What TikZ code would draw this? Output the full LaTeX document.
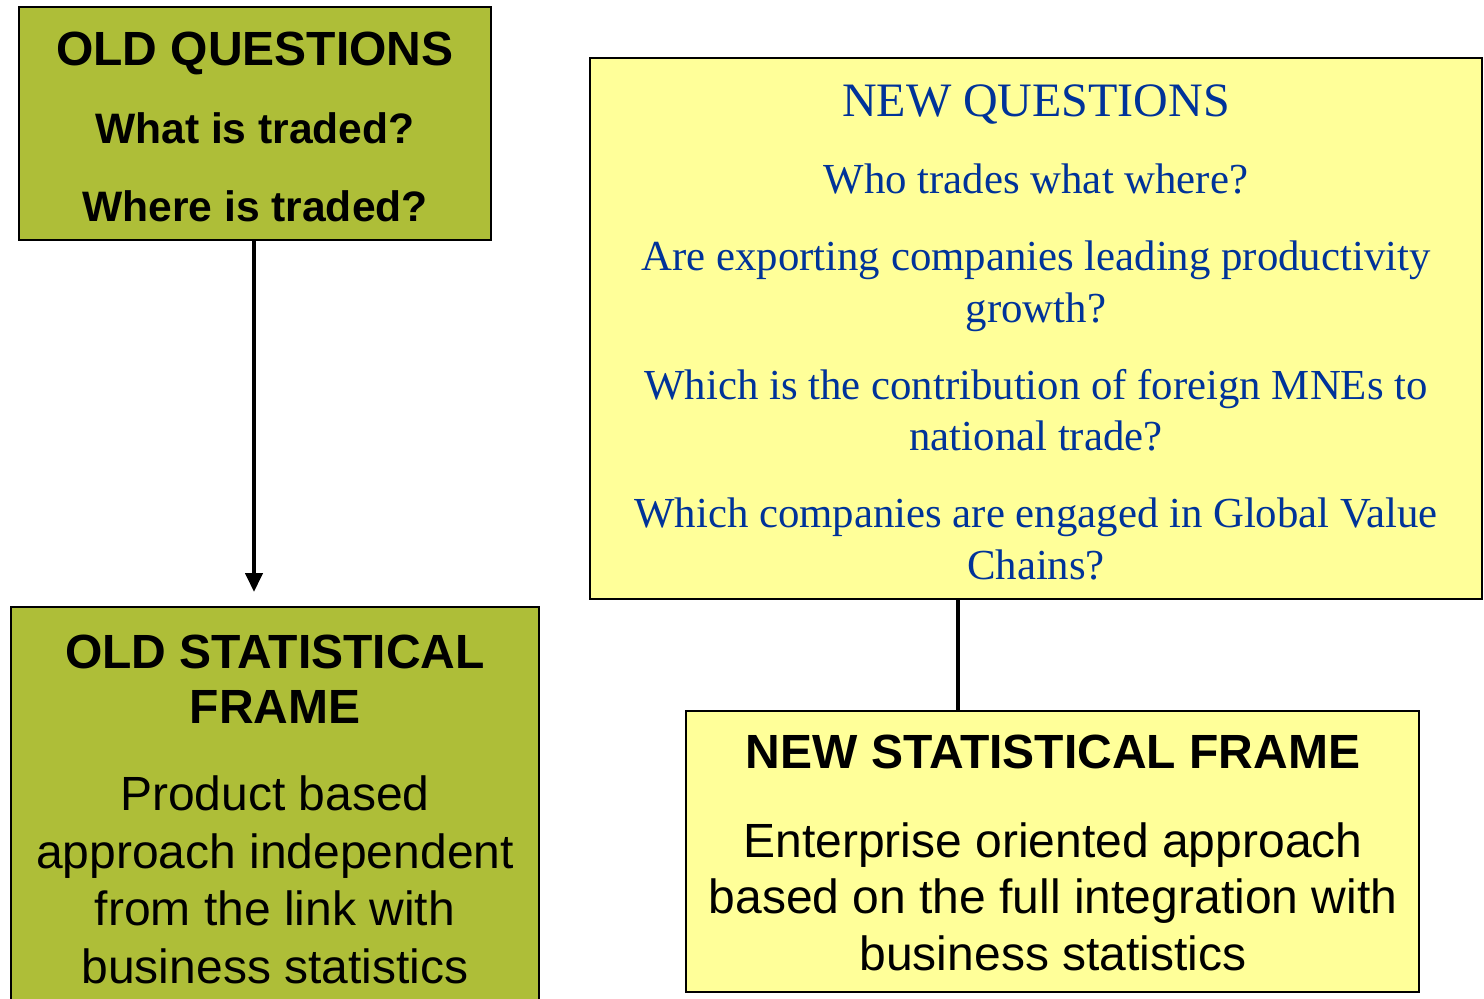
\documentclass[tikz,border=0pt]{standalone}
\usepackage{fontspec}
\setmainfont{Liberation Serif}
\setsansfont{Liberation Sans}
\usetikzlibrary{arrows.meta}
\definecolor{olivebox}{RGB}{174,190,56}
\definecolor{lyellow}{RGB}{255,255,153}
\definecolor{qblue}{RGB}{0,51,153}
\tikzset{
  box/.style={draw=black,line width=1pt,inner sep=0pt,outer sep=0pt,anchor=north west},
  txt/.style={inner sep=0pt,anchor=base},
  bighead/.style={txt,font=\sffamily\bfseries\fontsize{24}{28}\selectfont},
  oldq/.style={txt,font=\sffamily\bfseries\fontsize{21.3}{25}\selectfont},
  body/.style={txt,font=\sffamily\fontsize{24}{28}\selectfont},
  newhead/.style={txt,text=qblue,font=\rmfamily\fontsize{24}{28}\selectfont},
  newq/.style={txt,text=qblue,font=\rmfamily\fontsize{21.4}{25}\selectfont}
}
\begin{document}
\begin{tikzpicture}[x=0.5pt,y=-0.5pt]
\useasboundingbox (0,0) rectangle (1484,998);
% boxes
\node[box,fill=olivebox,minimum width=236pt,minimum height=116.5pt] (oq) at (19,7) {};
\node[box,fill=lyellow,minimum width=446pt,minimum height=270.5pt] (nq) at (590,58) {};
\node[box,fill=olivebox,minimum width=264pt,minimum height=199pt] (os) at (11,607) {};
\node[box,fill=lyellow,minimum width=366.5pt,minimum height=140.5pt] (ns) at (686,711) {};
% old questions
\node[bighead] (oq1) at (255,65) {OLD QUESTIONS};
\node[oldq] (oq2) at (255,143) {What is traded?};
\node[oldq] (oq3) at (255,221) {Where is traded?};
% new questions
\node[newhead] (nq1) at (1036,116) {NEW QUESTIONS};
\node[newq] (nq2) at (1036,193) {Who trades what where?};
\node[newq] (nq3) at (1036,270) {Are exporting companies leading productivity};
\node[newq] (nq4) at (1036,322) {growth?};
\node[newq] (nq5) at (1036,399) {Which is the contribution of foreign MNEs to};
\node[newq] (nq6) at (1036,450) {national trade?};
\node[newq] (nq7) at (1036,527) {Which companies are engaged in Global Value};
\node[newq] (nq8) at (1036,579) {Chains?};
% old statistical frame
\node[bighead] (os1) at (275,668) {OLD STATISTICAL};
\node[bighead] (os2) at (275,723) {FRAME};
\node[body] (os3) at (275,810) {Product based};
\node[body] (os4) at (275,868) {approach independent};
\node[body] (os5) at (275,925) {from the link with};
\node[body] (os6) at (275,983) {business statistics};
% new statistical frame
\node[bighead] (ns1) at (1053,768) {NEW STATISTICAL FRAME};
\node[body] (ns2) at (1053,857) {Enterprise oriented approach};
\node[body] (ns3) at (1053,913) {based on the full integration with};
\node[body] (ns4) at (1053,970) {business statistics};
% connectors
\coordinate (tip) at (254,592);
\coordinate (link) at (958,650);
\draw[line width=2pt,-{Triangle[length=9.5pt,width=8.5pt]}] (oq.south -| tip) -- (tip);
\draw[line width=2.3pt] (nq.south -| link) -- (ns.north -| link);
\end{tikzpicture}
\end{document}
